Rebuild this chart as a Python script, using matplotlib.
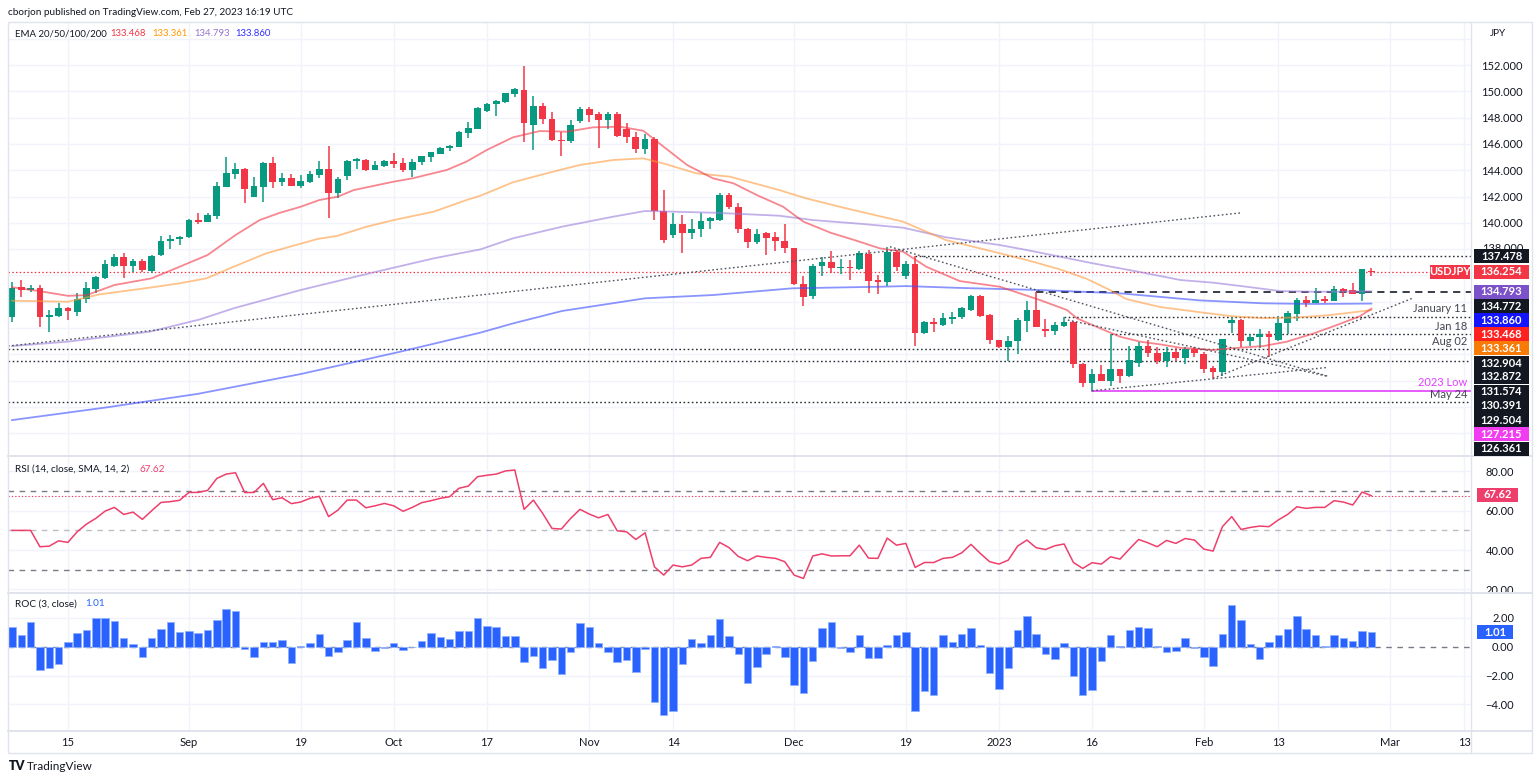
import matplotlib
matplotlib.use('Agg')
import matplotlib.pyplot as plt
import matplotlib.patches as mpatches
from matplotlib.lines import Line2D
import numpy as np

plt.rcParams['font.family'] = ['Lato', 'DejaVu Sans']

W, H = 1536, 779
def fx(px):
    return px / W
def fy(py):
    return 1 - py / H

# daily USDJPY candles, Aug 5 2022 .. Feb 27 2023 (one per trading day)
opens = [132.86, 135.09, 134.89, 135.04, 132.81, 132.94, 133.50, 133.24, 134.18, 134.97,
         135.78, 136.74, 137.37, 136.71, 137.09, 136.36, 137.55, 138.64, 138.77, 138.90,
         140.21, 140.09, 140.54, 142.75, 143.71, 144.09, 141.96, 142.75, 144.52, 143.08,
         143.43, 142.82, 143.13, 143.63, 144.09, 142.29, 143.56, 144.72, 144.78, 144.02,
         144.35, 144.70, 144.52, 144.02, 144.65, 145.03, 145.23, 145.66, 145.79, 146.85,
         147.13, 148.50, 149.03, 149.21, 149.79, 150.10, 147.44, 148.91, 147.87, 146.30,
         146.22, 147.74, 148.65, 148.25, 147.82, 148.25, 147.13, 146.55, 145.64, 146.35,
         140.92, 139.07, 139.88, 139.20, 139.50, 140.16, 140.21, 142.11, 141.18, 139.53,
         138.57, 139.20, 138.90, 138.64, 138.06, 135.32, 134.46, 136.74, 136.99, 136.54,
         136.66, 136.46, 137.63, 135.65, 135.47, 137.81, 135.98, 136.87, 131.59, 132.48,
         132.23, 132.71, 132.81, 133.37, 134.46, 132.99, 131.09, 130.53, 131.01, 132.56,
         133.37, 131.92, 131.80, 132.15, 132.48, 129.24, 127.79, 128.48, 128.00, 128.86,
         128.38, 129.36, 130.63, 130.12, 129.49, 130.20, 129.74, 130.38, 130.02, 128.93,
         128.63, 132.41, 132.61, 131.04, 131.34, 131.52, 131.09, 132.36, 133.07, 134.13,
         133.93, 134.18, 134.08, 134.94, 134.89, 134.59, 136.36]
highs = [135.47, 135.65, 135.25, 135.27, 133.37, 133.88, 133.62, 134.64, 135.47, 135.95,
         137.17, 137.63, 137.73, 137.22, 137.22, 137.55, 139.00, 139.07, 139.00, 140.26,
         140.77, 140.72, 143.08, 144.98, 144.52, 144.14, 143.51, 144.65, 144.98, 143.81,
         143.69, 143.63, 143.94, 144.70, 145.84, 143.46, 144.78, 144.95, 144.85, 144.73,
         144.78, 145.28, 144.90, 144.85, 145.10, 145.41, 145.79, 145.92, 146.98, 147.69,
         148.83, 149.08, 149.34, 149.90, 150.23, 151.92, 149.67, 149.08, 148.40, 146.88,
         147.82, 148.83, 148.83, 148.40, 148.45, 148.40, 147.56, 146.93, 146.73, 146.50,
         142.49, 140.72, 140.59, 140.26, 140.72, 140.47, 142.24, 142.24, 141.53, 139.58,
         139.53, 139.33, 139.28, 139.91, 138.11, 135.95, 136.84, 137.37, 137.86, 137.22,
         137.17, 137.86, 137.93, 136.03, 138.18, 137.93, 137.12, 137.48, 132.53, 132.73,
         133.17, 133.19, 133.57, 134.51, 134.51, 133.04, 131.09, 131.39, 132.73, 134.08,
         134.77, 132.68, 132.48, 132.87, 132.53, 129.36, 128.86, 129.19, 131.57, 128.90,
         130.63, 130.96, 131.09, 130.53, 130.58, 130.50, 130.53, 130.53, 130.20, 129.11,
         131.20, 132.86, 132.68, 131.52, 131.90, 131.80, 132.91, 133.29, 134.26, 134.43,
         135.07, 134.43, 135.20, 135.07, 135.40, 136.46, 136.54]
lows = [132.48, 134.38, 134.71, 132.10, 131.72, 132.86, 132.61, 132.94, 133.93, 134.64,
        135.70, 136.66, 135.83, 136.28, 136.28, 136.21, 137.50, 138.03, 138.31, 138.82,
        139.91, 140.04, 140.26, 142.70, 143.33, 141.48, 141.96, 141.61, 142.62, 142.82,
        142.78, 142.67, 143.00, 143.38, 140.34, 141.86, 143.25, 144.09, 143.94, 143.98,
        144.27, 144.14, 143.89, 143.51, 144.40, 144.65, 145.20, 145.46, 145.75, 146.47,
        147.10, 148.45, 148.12, 149.14, 149.59, 146.17, 145.54, 147.51, 146.25, 145.08,
        146.04, 147.56, 147.69, 145.66, 147.11, 146.55, 146.04, 145.33, 145.23, 140.21,
        138.49, 138.82, 137.68, 138.74, 138.90, 139.53, 140.16, 141.05, 139.20, 138.06,
        138.39, 137.55, 137.88, 137.68, 135.27, 133.67, 134.18, 135.98, 136.21, 136.11,
        135.65, 136.41, 134.69, 134.56, 135.22, 136.36, 135.75, 130.63, 131.54, 131.67,
        132.18, 132.30, 132.66, 133.32, 132.86, 130.78, 130.45, 129.50, 129.99, 131.72,
        132.05, 131.29, 131.47, 132.05, 128.93, 127.54, 127.22, 127.95, 127.59, 127.79,
        128.30, 129.06, 129.77, 129.26, 129.06, 129.52, 129.26, 129.82, 128.60, 128.17,
        128.35, 131.59, 130.53, 130.63, 130.45, 129.82, 131.01, 131.54, 132.56, 133.62,
        133.88, 133.88, 134.05, 134.38, 134.55, 134.08, 135.95]
closes = [135.07, 134.89, 135.07, 132.86, 132.99, 133.50, 133.32, 134.18, 135.02, 135.88,
          136.87, 137.37, 136.71, 137.07, 136.41, 137.50, 138.64, 138.79, 138.92, 140.19,
          140.09, 140.62, 142.80, 143.76, 144.09, 142.60, 142.80, 144.52, 143.08, 143.43,
          142.82, 143.18, 143.69, 144.09, 142.29, 143.33, 144.70, 144.83, 144.02, 144.40,
          144.70, 144.47, 144.02, 144.65, 145.08, 145.36, 145.66, 145.87, 146.88, 147.18,
          148.70, 149.06, 149.26, 149.85, 150.15, 147.61, 148.91, 147.89, 146.30, 146.22,
          147.44, 148.65, 148.20, 147.82, 148.25, 146.60, 146.55, 145.64, 146.35, 140.90,
          138.69, 139.88, 139.25, 139.50, 140.16, 140.34, 142.11, 141.18, 139.53, 138.57,
          139.12, 138.87, 138.64, 138.06, 135.32, 134.33, 136.74, 136.99, 136.54, 136.66,
          136.54, 137.68, 135.60, 135.47, 137.81, 136.66, 136.87, 131.65, 132.48, 132.28,
          132.73, 132.86, 133.50, 134.46, 132.94, 131.09, 130.53, 131.01, 132.61, 133.37,
          132.05, 131.80, 132.23, 132.48, 129.24, 127.79, 128.48, 128.00, 128.86, 128.38,
          129.57, 130.63, 130.12, 129.49, 130.20, 129.69, 130.38, 130.07, 128.88, 128.68,
          131.14, 132.61, 131.04, 131.34, 131.52, 131.34, 132.36, 133.17, 134.13, 133.93,
          134.13, 134.05, 134.94, 134.84, 134.59, 136.46, 136.254]

rsi = [50.0, 50.0, 50.0, 41.7, 42.0, 44.7, 43.9, 49.3, 53.2, 56.1,
       59.8, 61.7, 58.1, 59.3, 55.6, 60.0, 64.2, 64.6, 65.3, 69.3,
       69.3, 70.3, 76.4, 78.6, 79.3, 69.2, 69.3, 73.9, 65.6, 66.6,
       63.6, 64.4, 66.3, 67.3, 57.0, 60.3, 65.4, 65.4, 61.5, 62.5,
       63.7, 62.5, 59.7, 61.7, 64.1, 65.1, 66.3, 67.1, 71.4, 72.5,
       77.3, 78.0, 78.6, 80.2, 80.7, 60.7, 65.4, 58.6, 51.0, 50.7,
       56.1, 60.7, 58.3, 56.4, 58.1, 49.8, 49.3, 45.4, 48.8, 31.5,
       27.3, 32.4, 31.5, 32.4, 35.8, 36.3, 43.9, 41.3, 36.8, 34.6,
       37.0, 36.3, 35.8, 34.1, 27.3, 25.6, 37.0, 38.1, 37.0, 37.1,
       37.1, 42.5, 35.9, 35.8, 46.1, 42.5, 43.4, 31.2, 33.7, 33.7,
       35.8, 36.3, 38.6, 42.9, 38.3, 34.1, 32.9, 34.9, 42.0, 45.1,
       41.2, 40.3, 42.2, 43.1, 33.7, 30.7, 33.6, 32.9, 36.6, 35.4,
       40.5, 45.4, 43.7, 41.7, 44.9, 43.4, 45.9, 45.1, 40.5, 39.5,
       51.9, 57.0, 50.5, 51.5, 52.2, 51.9, 55.3, 58.1, 62.0, 61.2,
       61.7, 61.7, 65.1, 64.4, 62.9, 69.5, 67.62]

roc = [1.40, 0.81, 1.70, -1.63, -1.51, -1.21, 0.35, 0.98, 1.16, 1.98,
       1.98, 1.81, 0.63, 0.19, -0.74, 0.58, 1.21, 1.74, 1.05, 1.09,
       0.98, 1.16, 1.86, 2.60, 2.49, -0.16, -0.70, 0.35, 0.35, 0.47,
       -1.16, 0.05, 0.23, 0.88, -0.63, -0.35, 0.47, 1.74, 0.58, -0.28,
       -0.12, 0.28, -0.23, -0.05, 0.40, 0.93, 0.70, 0.51, 1.09, 1.09,
       1.98, 1.47, 1.40, 0.74, 0.74, -1.09, -0.63, -1.51, -0.93, -1.86,
       -0.35, 1.63, 1.40, 0.28, -0.35, -1.09, -0.93, -1.74, -0.19, -3.84,
       -4.77, -4.49, -1.21, 0.51, 0.23, 0.81, 1.91, 0.74, -0.53, -2.49,
       -1.44, -0.51, 0.05, -0.74, -2.63, -3.19, -0.98, 1.28, 1.74, -0.12,
       -0.35, 0.81, -0.81, -0.81, 0.12, 0.81, 1.05, -4.49, -3.07, -3.37,
       0.81, 0.35, 0.88, 1.28, 0.12, -1.79, -2.91, -1.51, 1.16, 2.16,
       0.88, -0.53, -0.86, 0.28, -2.02, -3.37, -3.02, -0.98, 0.81, 0.02,
       1.16, 1.40, 1.33, 0.02, -0.40, -0.28, 0.63, -0.12, -0.70, -1.33,
       0.88, 2.91, 1.86, 0.19, -0.86, 0.35, 0.81, 1.23, 2.14, 1.23,
       0.81, 0.05, 0.81, 0.58, 0.40, 1.09, 1.01]

# EMA lines (bar index, price)
ema20_k = [0, 3, 6, 8, 11, 15, 18, 21, 24, 26.6, 28.8, 31, 33, 35, 36.7, 41, 43, 46.7, 48.8, 51,
           53.8, 56.7, 59.6, 62.4, 65.3, 67.8, 69.6, 72.5, 75.3, 77.5, 80, 82.8, 85, 87.9, 90.7,
           93.2, 95.7, 98.2, 101.8, 106.1, 110.4, 113.3, 114.4, 116.9, 119, 121.2, 123.3, 125.5,
           129, 130.8, 134.4, 136.9, 139.8, 142.3, 144.8, 146]
ema20_v = [135.1, 134.8, 134.45, 134.5, 135.27, 135.78, 136.66, 137.55, 139.07, 140.21, 140.77,
           141.22, 141.73, 141.99, 142.49, 143.13, 143.38, 144.02, 144.65, 145.54, 146.5, 146.98,
           146.93, 147.26, 147.31, 147.0, 146.0, 144.4, 143.38, 143.0, 142.11, 141.23, 140.09,
           139.25, 138.64, 138.06, 137.81, 136.66, 135.57, 135.14, 134.13, 133.37, 132.73, 131.97,
           131.34, 130.96, 130.76, 130.5, 130.33, 130.45, 130.63, 130.96, 131.59, 132.23, 132.91,
           133.468]
ema50_k = [0, 6, 9.4, 14.8, 18, 20.9, 23.8, 27.3, 32.8, 34.9, 38.1, 41, 45.3, 48.8, 50.3, 53.8,
           57.4, 61, 64.6, 67.8, 70.3, 73.5, 77.1, 82.4, 85.3, 89.6, 95.7, 100.3, 104.7, 109,
           112.6, 115.4, 117.6, 119.7, 123.3, 127.6, 131, 134.4, 138, 141.6, 144.1, 146]
ema50_v = [134.08, 134.0, 134.56, 135.07, 135.4, 135.78, 136.66, 137.68, 138.77, 139.0, 139.71,
           140.21, 140.85, 141.73, 142.06, 143.08, 143.76, 144.4, 144.78, 144.9, 144.45, 143.76,
           143.51, 142.49, 141.86, 141.1, 140.09, 138.69, 137.93, 137.17, 136.45, 135.75, 135.0,
           134.2, 133.6, 133.2, 132.9, 132.75, 132.8, 132.99, 133.2, 133.361]
ema100_k = [0, 5.9, 14.8, 20.2, 23.8, 31, 38.1, 45.3, 50.3, 53.8, 59.1, 64.6, 68, 75.3, 82.4, 86,
            91.4, 95.7, 100.3, 106.1, 109, 116.1, 121.5, 125.5, 129, 132.6, 136.2, 139.8, 143.4, 146]
ema100_v = [130.63, 130.96, 131.72, 132.66, 133.5, 134.89, 136.11, 137.3, 137.98, 138.82, 139.71,
            140.47, 140.9, 140.77, 140.54, 140.21, 139.91, 139.63, 138.9, 138.31, 137.93, 136.92,
            136.21, 135.65, 135.45, 135.14, 134.81, 134.76, 134.77, 134.793]
ema200_k = [0, 10, 20, 31, 41.7, 50.3, 53.8, 59.1, 68, 75.3, 83.8, 93.2, 96, 101.8, 110.4, 119,
            127.6, 134.4, 139.8, 146]
ema200_v = [125.0, 125.95, 127.0, 128.5, 130.2, 131.65, 132.35, 133.3, 134.26, 134.51, 135.02,
            135.14, 135.19, 135.05, 134.89, 134.64, 134.1, 133.88, 133.83, 133.86]

# hand drawn trend lines (bar index pairs, price pairs)
trend_k = [[-0.43, 131.9], [94.3, 141.25], [113.4, 141.2], [116.0, 141.25], [129.0, 150.4]]
trend_p = [[130.63, 140.75], [138.18, 128.35], [132.61, 128.35], [127.23, 129.0], [128.17, 134.26]]

# horizontal levels and the bar they start from (None = whole chart)
level_vals = [137.478, 134.772, 132.872, 131.574, 130.391, 129.504, 127.215, 126.361]
level_start = [97, 110, 113, 118, None, None, 116, None]

time_k = [6, 19, 31, 41, 51, 62, 71, 84, 96, 106, 116, 128, 136, 148, 156]
time_labels = ['15', 'Sep', '19', 'Oct', '17', 'Nov', '14', 'Dec', '19', '2023', '16', 'Feb', '13', 'Mar', '13']

GREEN = '#089981'
RED = '#f23645'
TXT = '#131722'
GRID = '#f0f3fa'
RSI_C = '#ee3f6c'
ROC_C = '#2962ff'

fig = plt.figure(figsize=(15.36, 7.79), dpi=100)
fig.patch.set_facecolor('white')

L, R = 8, 1471
ax_p = fig.add_axes([fx(L), fy(456), fx(R) - fx(L), fy(22) - fy(456)])
ax_r = fig.add_axes([fx(L), fy(593), fx(R) - fx(L), fy(456) - fy(593)], sharex=ax_p)
ax_c = fig.add_axes([fx(L), fy(731), fx(R) - fx(L), fy(593) - fy(731)], sharex=ax_p)

for ax in [ax_p, ax_r, ax_c]:
    for s in ax.spines.values():
        s.set_visible(False)
    ax.set_facecolor('none')
    ax.tick_params(length=0, labelsize=8, colors=TXT)
    ax.yaxis.tick_right()
    for kk in time_k:
        ax.axvline(kk, color=GRID, lw=1, zorder=0)

ax_p.set_xlim(-0.43, 156.7)
ax_p.set_ylim(122.27, 155.27)
ax_r.set_ylim(18.2, 87.8)
ax_c.set_ylim(-5.85, 3.73)

# ---- price pane
for p in range(124, 156, 2):
    ax_p.axhline(p, color=GRID, lw=1, zorder=0)

dot = (0, (1.2, 1.8))
for v, st in zip(level_vals, level_start):
    x0 = -0.43 if st is None else st
    if v == 134.772:
        ax_p.plot([x0, 157], [v, v], color='#2a2e39', lw=1.3, ls=(0, (4, 3)), zorder=2)
    elif v == 127.215:
        ax_p.plot([x0, 157], [v, v], color='#e040fb', lw=1.2, zorder=2)
    else:
        ax_p.plot([x0, 157], [v, v], color='#2a2e39', lw=1.0, ls=dot, zorder=2)

for tk, tp in zip(trend_k, trend_p):
    ax_p.plot(tk, tp, color='#50535e', lw=1.0, ls=dot, zorder=5)

ax_p.axhline(closes[-1], color=RED, lw=0.9, ls=dot, zorder=2)

o = np.array(opens); c = np.array(closes); hi = np.array(highs); lo = np.array(lows)
kx = np.arange(len(c))
cols = np.where(c >= o, GREEN, RED)
ax_p.vlines(kx, lo, hi, colors=cols, lw=1.1, zorder=3)
body = np.maximum(np.abs(c - o), 0.05)
ax_p.bar(kx, body, bottom=np.minimum(o, c), width=0.72, color=cols, lw=0, zorder=3)

ax_p.plot(ema200_k, ema200_v, color='#3d4dff', lw=1.3, alpha=0.6, zorder=4)
ax_p.plot(ema100_k, ema100_v, color='#9a7ddb', lw=1.3, alpha=0.6, zorder=4)
ax_p.plot(ema50_k, ema50_v, color='#ff9a3c', lw=1.3, alpha=0.6, zorder=4)
ax_p.plot(ema20_k, ema20_v, color='#f23645', lw=1.3, alpha=0.6, zorder=4)

ax_p.set_yticks(range(140, 154, 2))
ax_p.set_yticklabels(['%.3f' % v for v in range(140, 154, 2)])
ax_p.tick_params(axis='y', pad=7.5)
ax_p.tick_params(axis='x', labelbottom=False)
# 138.000 is mostly hidden behind the 137.478 box, only its top shows
fig.text(fx(1482), fy(248), '138.000', fontsize=8, color=TXT, va='center', zorder=5)

# ---- RSI pane
for v in [20, 40, 60, 80]:
    ax_r.axhline(v, color=GRID, lw=1, zorder=0)
ax_r.axhline(70, color='#787b86', lw=1, ls=(0, (4, 4)), zorder=1)
ax_r.axhline(30, color='#787b86', lw=1, ls=(0, (4, 4)), zorder=1)
ax_r.axhline(50, color='#787b86', lw=1, ls=(0, (4, 4)), alpha=0.5, zorder=1)
ax_r.axhline(rsi[-1], color=RSI_C, lw=0.8, ls=dot, zorder=1)
ax_r.plot(kx, rsi, color=RSI_C, lw=1.1, zorder=3)
ax_r.set_yticks([20, 40, 60, 80])
ax_r.set_yticklabels(['20.00', '40.00', '60.00', '80.00'])
ax_r.tick_params(axis='y', pad=31)
for t in ax_r.get_yticklabels():
    t.set_horizontalalignment('right')
ax_r.tick_params(axis='x', labelbottom=False)

# ---- ROC pane
for v in [-4, -2, 2]:
    ax_c.axhline(v, color=GRID, lw=1, zorder=0)
ax_c.axhline(0, color='#787b86', lw=1, ls=(0, (4, 4)), zorder=1)
ax_c.bar(kx, roc, width=0.8, color=ROC_C, edgecolor='#8fb0ff', lw=0.6, zorder=3)
ax_c.set_yticks([-4, -2, 0, 2])
ax_c.set_yticklabels(['\u22124.00', '\u22122.00', '0.00', '2.00'])
ax_c.tick_params(axis='y', pad=31)
for t in ax_c.get_yticklabels():
    t.set_horizontalalignment('right')
ax_c.set_xticks(time_k)
ax_c.set_xticklabels(time_labels)
ax_c.tick_params(axis='x', pad=4)

# ---- frame and separators
fig.add_artist(mpatches.Rectangle((fx(8), fy(753)), fx(1532) - fx(8), fy(22) - fy(753),
                                  transform=fig.transFigure, fill=False, ec='#e0e3eb', lw=1))
for yy in [456, 593, 731]:
    fig.add_artist(Line2D([fx(8), fx(1532)], [fy(yy), fy(yy)], color='#e0e3eb', lw=1.4))
fig.add_artist(Line2D([fx(R), fx(R)], [fy(22), fy(753)], color='#e0e3eb', lw=1))

# ---- axis value boxes
def box(x0, x1, yc, text, bg, fg='white', h=14):
    fig.add_artist(mpatches.Rectangle((fx(x0), fy(yc + h / 2)), fx(x1) - fx(x0), h / H,
                                      transform=fig.transFigure, fc=bg, ec='none', zorder=10))
    fig.text(fx((x0 + x1) / 2), fy(yc), text, color=fg, fontsize=8, fontweight='bold',
             ha='center', va='center', zorder=11)

axis_boxes = [(256, '137.478', '#131722'), (271.5, '136.254', RED), (291.7, '134.793', '#7b52c9'),
              (306, '134.772', '#131722'), (320.3, '133.860', '#1414ff'), (334.3, '133.468', '#ff2020'),
              (348.3, '133.361', '#f77b06'), (363.3, '132.904', '#131722'), (377, '132.872', '#131722'),
              (391.7, '131.574', '#131722'), (405.7, '130.391', '#131722'), (420, '129.504', '#131722'),
              (434, '127.215', '#f23cf2'), (448.5, '126.361', '#131722')]
for yc, t, bg in axis_boxes:
    box(1474, 1529, yc, t, bg)
box(1430, 1470, 271.5, 'USDJPY', RED)
box(1477, 1518, 495, '67.62', RSI_C)
box(1477, 1513, 632, '1.01', ROC_C)

# level names drawn left of the scale
for yy, t, col in [(309, 'January 11', '#434651'), (326, 'Jan 18', '#434651'), (341.7, 'Aug 02', '#434651'),
                   (382.7, '2023 Low', '#e040fb'), (395, 'May 24', '#434651')]:
    fig.text(fx(1467), fy(yy), t, color=col, fontsize=8, ha='right', va='center', zorder=9)

# ---- header, legends, footer
fig.text(fx(8), fy(12.5), 'cborjon published on TradingView.com, Feb 27, 2023 16:19 UTC',
         fontsize=7.2, color=TXT, va='center')
fig.text(fx(15), fy(34), 'EMA 20/50/100/200', fontsize=6.9, color=TXT, va='center')
for xx, t, col in [(110, '133.468', '#f23645'), (152, '133.361', '#ff9800'),
                   (194, '134.793', '#9575cd'), (235, '133.860', '#2f2fff')]:
    fig.text(fx(xx), fy(34), t, fontsize=6.9, color=col, va='center')
fig.text(fx(1490), fy(34), 'JPY', fontsize=7.2, color=TXT, va='center')
fig.text(fx(15), fy(469), 'RSI (14, close, SMA, 14, 2)', fontsize=7.2, color=TXT, va='center')
fig.text(fx(139), fy(469), '67.62', fontsize=7.2, color=RSI_C, va='center')
fig.text(fx(15), fy(604), 'ROC (3, close)', fontsize=7.2, color=TXT, va='center')
fig.text(fx(85), fy(604), '1.01', fontsize=7.2, color=ROC_C, va='center')

fig.text(fx(9), fy(766), 'TV', fontsize=9, fontweight='heavy', color=TXT, va='center')
fig.text(fx(27), fy(766), 'TradingView', fontsize=8.5, color=TXT, va='center')

fig.savefig('out.png', dpi=100)
